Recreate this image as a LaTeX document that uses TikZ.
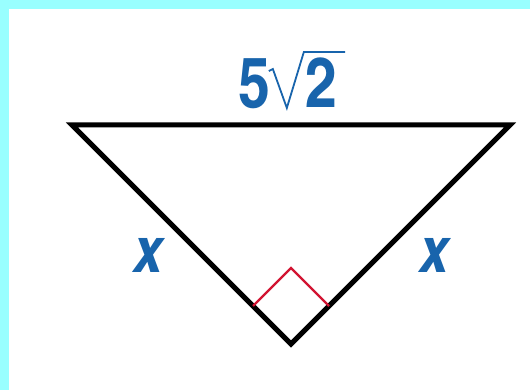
\documentclass[tikz,border=0pt]{standalone}
\usepackage{fontspec}
\newfontfamily\cnfont{TeX Gyre Heros Cn}
\usetikzlibrary{calc}
\definecolor{frameC}{RGB}{153,255,255}
\definecolor{labB}{RGB}{24,100,172}
\definecolor{markR}{RGB}{210,20,50}

\begin{document}
\begin{tikzpicture}[x=1pt, y=-1pt,
  side/.style={line width=5pt, line join=miter},
  rtmark/.style={draw=markR, line width=2.2pt},
  lbl/.style={text=labB, inner sep=0pt, anchor=base,
    font=\fontsize{70}{72}\selectfont\cnfont\bfseries},
  leglbl/.style={lbl, font=\fontsize{64}{66}\selectfont\cnfont\bfseries\itshape}]
  % frame
  \fill[frameC] (0,0) rectangle (530,390);
  \fill[white] (9,9) rectangle (530,390);
  \useasboundingbox (0,0) rectangle (530,390);
  % triangle
  \coordinate (A) at (72,125);
  \coordinate (B) at (510,125);
  \coordinate (C) at (291,344);
  \draw[side] (A) -- (B) -- (C) -- cycle;
  % right angle
  \coordinate (mA) at ($(C)!0.1735!(A)$);
  \coordinate (mB) at ($(C)!0.1735!(B)$);
  \draw[rtmark] (mA) -- ($(mA)+(mB)-(C)$) -- (mB);
  % hypotenuse label
  \node[lbl] (five) at (254,108) {5};
  \node[lbl] (two) at (321,108) {2};
  \draw[labB, line width=1.8pt, line join=miter]
    ($(two.base west)+(-36,-37)$) -- ++(4,-2) -- ($(two.base west)+(-18,0)$)
    -- ($(two.base west)+(-1,-56)$) -- ($(two.base east)+(8,-56)$);
  % legs
  \node[leglbl] (legL) at (148,272) {x};
  \node[leglbl] (legR) at (434,272) {x};
\end{tikzpicture}
\end{document}
